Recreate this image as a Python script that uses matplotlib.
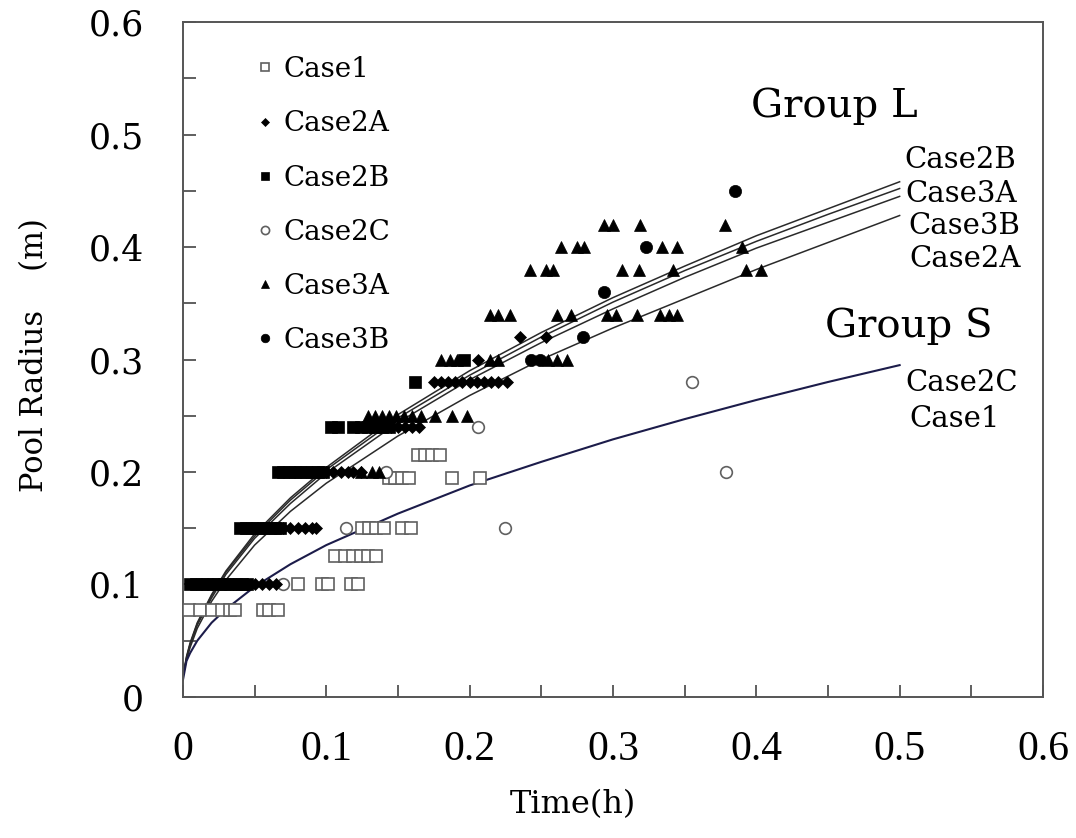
import matplotlib
matplotlib.use("Agg")
import matplotlib.pyplot as plt
from matplotlib.lines import Line2D

# fitted curves (time in h, radius in m)
CURVE_T = [0.0, 0.0025, 0.005, 0.01, 0.02, 0.03, 0.05, 0.075, 0.1, 0.15,
           0.2, 0.25, 0.3, 0.35, 0.4, 0.45, 0.5]
CURVE_2B = [0.018, 0.036, 0.048, 0.066, 0.091, 0.112, 0.145, 0.177, 0.204, 0.251,
            0.290, 0.324, 0.355, 0.383, 0.410, 0.434, 0.458]
CURVE_3A = [0.018, 0.035, 0.047, 0.065, 0.090, 0.111, 0.143, 0.175, 0.202, 0.248,
            0.286, 0.320, 0.351, 0.379, 0.405, 0.429, 0.452]
CURVE_3B = [0.018, 0.034, 0.046, 0.064, 0.088, 0.109, 0.141, 0.172, 0.199, 0.244,
            0.282, 0.315, 0.345, 0.373, 0.399, 0.422, 0.445]
CURVE_2A = [0.018, 0.033, 0.044, 0.061, 0.085, 0.104, 0.135, 0.165, 0.190, 0.232,
            0.268, 0.300, 0.328, 0.354, 0.380, 0.404, 0.428]
CURVE_S = [0.015, 0.032, 0.039, 0.050, 0.066, 0.078, 0.098, 0.118, 0.135, 0.163,
           0.188, 0.209, 0.229, 0.247, 0.264, 0.280, 0.295]

# measured points, grouped by radius level: {radius: [times]}
CASE1 = {
    0.077: [0.004, 0.012, 0.020, 0.027, 0.033, 0.036, 0.056, 0.060, 0.066],
    0.100: [0.080, 0.097, 0.101, 0.117, 0.122],
    0.125: [0.106, 0.113, 0.119, 0.124, 0.129, 0.135],
    0.150: [0.125, 0.130, 0.135, 0.140, 0.153, 0.159],
    0.195: [0.144, 0.148, 0.153, 0.158, 0.188, 0.207],
    0.215: [0.164, 0.169, 0.174, 0.179],
}
CASE2A = {
    0.10: [0.020, 0.025, 0.030, 0.035, 0.040, 0.045, 0.050, 0.055, 0.060, 0.065],
    0.15: [0.060, 0.065, 0.070, 0.075, 0.080, 0.085, 0.090, 0.093],
    0.20: [0.090, 0.095, 0.100, 0.105, 0.110, 0.115, 0.119, 0.124],
    0.24: [0.145, 0.150, 0.155, 0.160, 0.165],
    0.28: [0.175, 0.180, 0.185, 0.190, 0.195, 0.200, 0.205, 0.210, 0.215, 0.220, 0.226],
    0.30: [0.206],
    0.32: [0.235, 0.253],
}
CASE2B = {
    0.10: [0.005, 0.009, 0.013, 0.017, 0.021, 0.025, 0.029, 0.033, 0.037, 0.041, 0.045],
    0.15: [0.040, 0.044, 0.048, 0.052, 0.056, 0.060, 0.064, 0.068],
    0.20: [0.066, 0.070, 0.074, 0.078, 0.082, 0.086, 0.090, 0.094, 0.098],
    0.24: [0.103, 0.108, 0.119, 0.124, 0.129, 0.134, 0.139, 0.144],
    0.28: [0.162],
    0.30: [0.196],
}
CASE2C_T = [0.070, 0.114, 0.142, 0.206, 0.225, 0.355, 0.379]
CASE2C_R = [0.10, 0.15, 0.20, 0.24, 0.15, 0.28, 0.20]
CASE3A = {
    0.20: [0.124, 0.132, 0.137],
    0.25: [0.129, 0.134, 0.139, 0.144, 0.149, 0.154, 0.160, 0.166, 0.176, 0.188, 0.198],
    0.30: [0.180, 0.186, 0.191, 0.214, 0.220, 0.255, 0.261, 0.268],
    0.34: [0.214, 0.220, 0.228, 0.261, 0.271, 0.296, 0.302, 0.317, 0.333, 0.339, 0.345],
    0.38: [0.242, 0.253, 0.258, 0.306, 0.318, 0.342, 0.393, 0.403],
    0.40: [0.264, 0.275, 0.280, 0.334, 0.345, 0.390],
    0.42: [0.294, 0.300, 0.319, 0.378],
}
CASE3B_T = [0.243, 0.249, 0.279, 0.294, 0.323, 0.385]
CASE3B_R = [0.30, 0.30, 0.32, 0.36, 0.40, 0.45]

TICKS = [0, 0.1, 0.2, 0.3, 0.4, 0.5, 0.6]
MINOR = [0.05, 0.15, 0.25, 0.35, 0.45, 0.55]
TICK_LABELS = ["0", "0.1", "0.2", "0.3", "0.4", "0.5", "0.6"]


def flatten(rows):
    ts, rs = [], []
    for r, times in rows.items():
        ts += times
        rs += [r] * len(times)
    return ts, rs


plt.rcParams["font.family"] = ["DejaVu Serif"]

fig = plt.figure(figsize=(10.76, 8.38), dpi=100)
ax = fig.add_axes([0.170, 0.1683, 0.7993, 0.8054])

# curves
line_kw = dict(color="#2a2a2a", lw=1.1, zorder=2)
for vals in (CURVE_2B, CURVE_3A, CURVE_3B, CURVE_2A):
    ax.plot(CURVE_T, vals, **line_kw)
ax.plot(CURVE_T, CURVE_S, color="#1c1c4a", lw=1.5, zorder=2)

styles = {
    "Case1": dict(marker="s", ms=8.0, mfc="white", mec="#606060", mew=1.2),
    "Case2A": dict(marker="D", ms=6.2, mfc="black", mec="black", mew=0.5),
    "Case2B": dict(marker="s", ms=9.2, mfc="black", mec="black", mew=0.5),
    "Case2C": dict(marker="o", ms=8.4, mfc="white", mec="#606060", mew=1.2),
    "Case3A": dict(marker="^", ms=9.0, mfc="black", mec="black", mew=0.5),
    "Case3B": dict(marker="o", ms=8.8, mfc="black", mec="black", mew=0.5),
}

t1, r1 = flatten(CASE1)
t2a, r2a = flatten(CASE2A)
t2b, r2b = flatten(CASE2B)
t3a, r3a = flatten(CASE3A)
series = [
    ("Case1", t1, r1),
    ("Case2C", CASE2C_T, CASE2C_R),
    ("Case2B", t2b, r2b),
    ("Case2A", t2a, r2a),
    ("Case3A", t3a, r3a),
    ("Case3B", CASE3B_T, CASE3B_R),
]
for name, ts, rs in series:
    ax.plot(ts, rs, ls="none", zorder=3, **styles[name])

# legend
handles = []
for name in ("Case1", "Case2A", "Case2B", "Case2C", "Case3A", "Case3B"):
    st = dict(styles[name])
    st["ms"] = st["ms"] * 0.7
    handles.append(Line2D([], [], ls="none", label=name, **st))
ax.legend(handles=handles, loc="upper left", bbox_to_anchor=(0.0715, 0.966),
          frameon=False, fontsize=20, handlelength=0.7, handletextpad=0.3,
          labelspacing=0.98, borderaxespad=0)

# right-hand annotations
ax.text(0.396, 0.516, "Group L", fontsize=29, va="baseline")
ax.text(0.448, 0.320, "Group S", fontsize=29, va="baseline")
for label, t, r in [("Case2B", 0.5035, 0.470), ("Case3A", 0.504, 0.440),
                    ("Case3B", 0.506, 0.412), ("Case2A", 0.507, 0.382),
                    ("Case2C", 0.504, 0.272), ("Case1", 0.507, 0.240)]:
    ax.text(t, r, label, fontsize=21, va="baseline")

ax.set_xlim(0, 0.6)
ax.set_ylim(0, 0.6)
ax.set_xticks(TICKS)
ax.set_xticks(MINOR, minor=True)
ax.set_yticks(TICKS)
ax.set_yticks(MINOR, minor=True)
ax.set_xticklabels(TICK_LABELS, family="Liberation Serif", fontsize=30)
ax.set_yticklabels(TICK_LABELS, fontsize=25)
ax.tick_params(which="both", direction="in", length=9, width=1.2, color="#444444",
               top=False, right=False)
ax.tick_params(axis="x", pad=24)
ax.tick_params(axis="y", pad=28)
for sp in ax.spines.values():
    sp.set_color("#555555")
    sp.set_linewidth(1.4)

fig.text(0.0325, 0.576, "Pool Radius    (m)", rotation=90, fontsize=22,
         ha="center", va="center")
fig.text(0.532, 0.040, "Time(h)", fontsize=23, ha="center", va="center")

fig.savefig("out.png", dpi=100)
